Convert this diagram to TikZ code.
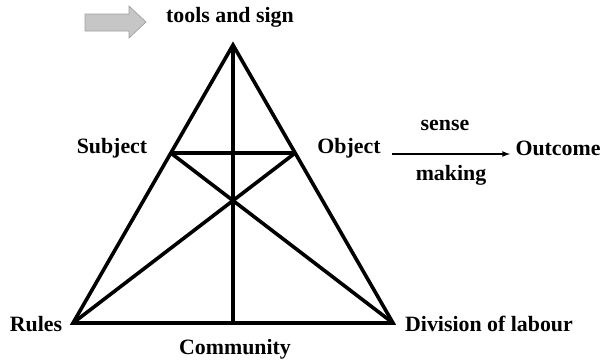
\documentclass[tikz,border=0pt]{standalone}
\usepackage{fontspec}
\setmainfont{Liberation Serif}
\usepackage{tikz}
\usetikzlibrary{shapes,arrows,positioning,calc}

\begin{document}
\begin{tikzpicture}[x=0.75pt,y=-0.75pt,
    lbl/.style={font=\bfseries\fontsize{16.4}{18}\selectfont, inner sep=1pt},
    edge/.style={line width=2.7pt, line join=miter}]
    \useasboundingbox (0,0) rectangle (606,362);
    % Triangle corners
    \coordinate (apex) at (233,45);
    \coordinate (lft) at (73,323);
    \coordinate (rgt) at (393,323);
    \coordinate (subj) at ($(apex)!0.3885!(lft)$);
    \coordinate (obj) at ($(apex)!0.3885!(rgt)$);
    \coordinate (base) at (233,323);

    % Triangle and inner lines
    \draw[edge] (apex) -- (lft) -- (rgt) -- cycle;
    \draw[edge] (subj) -- (obj);
    \draw[edge] (apex) -- (base);
    \draw[edge] (subj) -- (rgt);
    \draw[edge] (obj) -- (lft);

    % Grey arrow
    \draw[fill=gray!45, draw=gray!75, line width=0.5pt]
        (85,14) -- (129,14) -- (129,6) -- (146,22) -- (129,38) -- (129,31) -- (85,31) -- cycle;

    % Labels
    \node[lbl] (tools) at (230,17) {tools and sign};
    \node[lbl] (subject) at (112,148) {Subject};
    \node[lbl] (object) at (349,148) {Object};
    \node[lbl] (outcome) at (558,148) {Outcome};
    \node[lbl] (rules) at (36,324) {Rules};
    \node[lbl] (community) at (235,349) {Community};
    \node[lbl] (division) at (489,324) {Division of labour};

    % Outcome arrow
    \coordinate (from) at (392,154);
    \coordinate (to) at (510,154);
    \draw[-latex, line width=1pt] (from) -- (to);
    \node[lbl] (sense) at (445,125) {sense};
    \node[lbl] (making) at (451,175) {making};
\end{tikzpicture}
\end{document}
